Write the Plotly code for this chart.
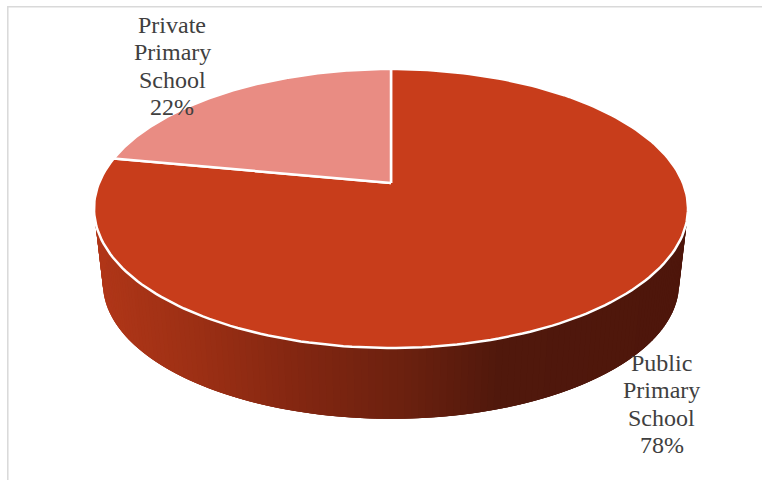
import numpy as np
import plotly.graph_objects as go

# Chart data
categories = ["Public Primary School", "Private Primary School"]
shares = [78, 22]
top_colors = ["#C83D1B", "#E98C83"]

# Projected disc geometry, in page pixels
CX, APEX_Y, TOP_Y, BOTTOM_Y = 391.0, 183.0, 69.0, 348.0
RADIUS = 292.0
RIM_DEPTH = 75.0
RIM_SCALE = 0.97
RIM_ORIGIN_Y = 208.5

# Perspective terms for a circle tilted towards the viewer
c = (BOTTOM_Y + TOP_Y - 2 * APEX_Y) / (BOTTOM_Y - TOP_Y)
a = TOP_Y * (1 + c) - APEX_Y


def project(u, v):
    """Map a point on the unit disc to page pixels."""
    d = 1 + c * v
    return CX + RADIUS * u / d, (a * v + APEX_Y) / d


def slice_outline(start, end, steps=200):
    """Outline of a pie slice between two clockwise fractions of the circle."""
    t = np.linspace(start, end, steps) * 2 * np.pi
    x, y = project(np.sin(t), np.cos(t))
    ax, ay = project(0.0, 0.0)
    return np.r_[ax, x, ax], np.r_[ay, y, ay]


def lower_rim(x, y):
    return CX + (x - CX) * RIM_SCALE, RIM_ORIGIN_Y + RIM_DEPTH + (y - RIM_ORIGIN_Y) * RIM_SCALE


# Shading of the side wall, from its left end to its right end
shade_x = [95, 200, 300, 400, 500, 690]
shade_r = [176, 155, 130, 108, 80, 78]
shade_g = [54, 47, 38, 33, 24, 22]
shade_b = [24, 20, 17, 15, 12, 11]

fig = go.Figure()

# Side wall: short overlapping pieces of the rim, each one painted over the
# leading part of the previous one so that no seams show between them
fractions = np.cumsum([0] + shares) / sum(shares)
edges = np.linspace(fractions[0], fractions[1], 241) * 2 * np.pi
for i in range(len(edges) - 1):
    t = edges[i:i + 4]
    tx, ty = project(np.sin(t), np.cos(t))
    bx, by = lower_rim(tx, ty)
    mid = (tx[0] + tx[1]) / 2
    colour = "rgb({:.0f},{:.0f},{:.0f})".format(
        np.interp(mid, shade_x, shade_r),
        np.interp(mid, shade_x, shade_g),
        np.interp(mid, shade_x, shade_b),
    )
    fig.add_trace(go.Scatter(
        x=np.r_[tx, bx[::-1], tx[0]],
        y=np.r_[ty, by[::-1], ty[0]],
        mode="lines", fill="toself", fillcolor=colour,
        line=dict(color=colour, width=0), hoverinfo="skip", showlegend=False,
    ))

# Top face: one filled outline per category
for i, (name, colour) in enumerate(zip(categories, top_colors)):
    x, y = slice_outline(fractions[i], fractions[i + 1])
    fig.add_trace(go.Scatter(
        x=x, y=y, mode="lines", fill="toself", fillcolor=colour,
        line=dict(color="white", width=2.5), name=name,
        hoverinfo="name", showlegend=False,
    ))

# Category labels, one word per line with the share below
label_positions = [(661.5, 404), (172, 66)]
LINE_PITCH = 27.6
for name, share, (lx, ly) in zip(categories, shares, label_positions):
    lines = name.split() + [f"{share}%"]
    for j, line in enumerate(lines):
        fig.add_annotation(
            x=lx, y=ly + (j - (len(lines) - 1) / 2) * LINE_PITCH,
            xref="x", yref="y", showarrow=False, text=line,
            font=dict(family="Liberation Serif", size=24, color="#404040"),
            xanchor="center", yanchor="middle", align="center",
        )

# Chart frame, open on the right and at the bottom of the page
fig.add_shape(type="rect", x0=7.8, y0=6.8, x1=800, y1=520, xref="x", yref="y",
              line=dict(color="#D9D9D9", width=1.5), layer="below")

fig.update_layout(
    width=762, height=480, margin=dict(l=0, r=0, t=0, b=0),
    paper_bgcolor="white", plot_bgcolor="white", showlegend=False,
    xaxis=dict(range=[0, 762], visible=False, fixedrange=True),
    yaxis=dict(range=[480, 0], visible=False, fixedrange=True),
)

fig.write_html("out.html", config={"displayModeBar": False})
